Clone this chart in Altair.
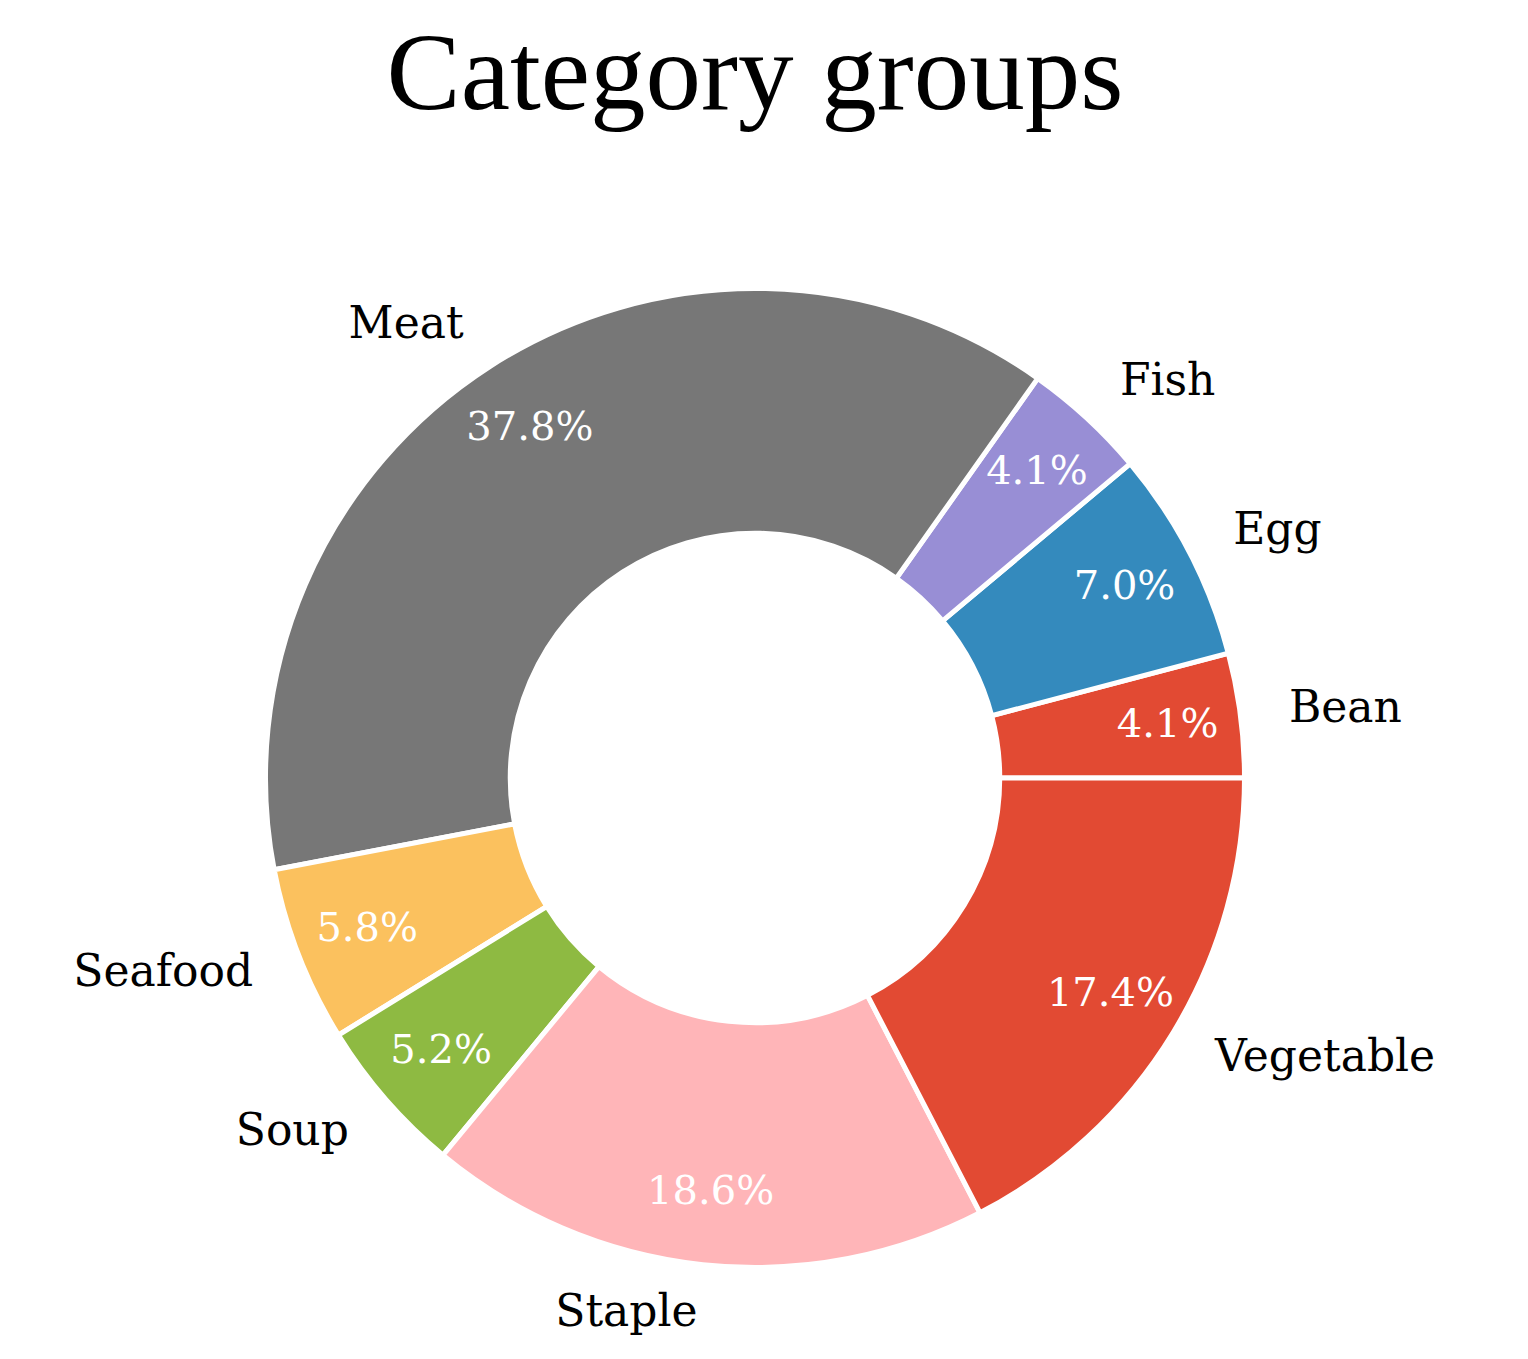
import math
import altair as alt
import pandas as pd

categories = ["Bean", "Egg", "Fish", "Meat", "Seafood", "Soup", "Staple", "Vegetable"]
shares = [4.1, 7.0, 4.1, 37.8, 5.8, 5.2, 18.6, 17.4]
colors = ["#E24A33", "#348ABD", "#988ED5", "#777777", "#FBC15E", "#8EBA42", "#FFB5B8", "#E24A33"]

df = pd.DataFrame({"cat": categories, "val": shares, "order": list(range(len(categories)))})

R_OUT = 489.5
R_IN = 244.75

theta_scale = alt.Scale(domain=[0, 100], range=[math.pi / 2, math.pi / 2 - 2 * math.pi])

base = alt.Chart(df).transform_window(
    cum="sum(val)", sort=[alt.SortField("order")], frame=[None, 0]
).transform_calculate(
    start="datum.cum - datum.val",
    mid="datum.cum - datum.val / 2",
    pct="format(datum.val, '.1f') + '%'",
    left="datum.cum - datum.val / 2 > 25 && datum.cum - datum.val / 2 < 75",
)

arcs = base.mark_arc(outerRadius=R_OUT, innerRadius=R_IN, stroke="white", strokeWidth=5).encode(
    theta=alt.Theta("start:Q", scale=theta_scale, stack=None),
    theta2="cum:Q",
    color=alt.Color("cat:N", scale=alt.Scale(domain=categories, range=colors), legend=None),
)

pct_text = base.mark_text(
    radius=R_OUT * 0.85, font="DejaVu Serif", fontSize=40, color="white", align="center", baseline="middle"
).encode(
    theta=alt.Theta("mid:Q", scale=theta_scale, stack=None),
    text="pct:N",
)

lab_right = base.transform_filter("!datum.left").mark_text(
    radius=R_OUT * 1.1, font="DejaVu Serif", fontSize=44, color="black", align="left", baseline="middle"
).encode(
    theta=alt.Theta("mid:Q", scale=theta_scale, stack=None),
    text="cat:N",
)

lab_left = base.transform_filter("datum.left").mark_text(
    radius=R_OUT * 1.1, font="DejaVu Serif", fontSize=44, color="black", align="right", baseline="middle"
).encode(
    theta=alt.Theta("mid:Q", scale=theta_scale, stack=None),
    text="cat:N",
)

chart = alt.layer(arcs, pct_text, lab_right, lab_left).properties(
    width=1494,
    height=1080,
    autosize=alt.AutoSizeParams(type="none"),
    padding={"left": 0, "top": 230, "right": 0, "bottom": 36},
    title=alt.TitleParams(
        "Category groups", font="Liberation Serif", fontSize=111, fontWeight="normal",
        color="black", anchor="middle", offset=106,
    ),
).configure_view(stroke=None)

chart.save("out.html", embed_options={"renderer": "svg", "actions": False})
